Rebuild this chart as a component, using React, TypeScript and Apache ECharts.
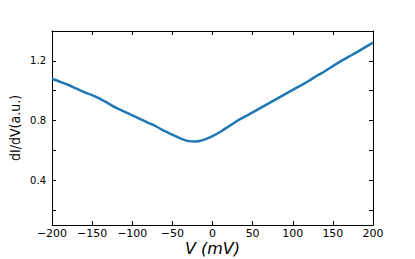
import React, { useEffect, useRef } from "react";
import * as echarts from "echarts";

const voltages = [-200,-190,-180,-170,-160,-150,-140,-130,-120,-110,-100,-90,-80,-70,-60,-50,-40,-30,-20,-10,0,10,20,30,40,50,60,70,80,90,100,110,120,130,140,150,160,170,180,190,200];
const didv = [1.078,1.06,1.04,1.015,0.99,0.97,0.945,0.915,0.885,0.86,0.835,0.81,0.785,0.76,0.73,0.705,0.68,0.662,0.66,0.672,0.695,0.725,0.76,0.795,0.825,0.855,0.885,0.915,0.945,0.975,1.005,1.035,1.065,1.1,1.13,1.165,1.198,1.228,1.258,1.29,1.322];
const yLabelValues = [0.4, 0.8, 1.2];
const yTickValues = [0.2, 0.4, 0.6, 0.8, 1.0, 1.2];

export default function App() {
  const ref = useRef<HTMLDivElement>(null);
  useEffect(() => {
    if (!ref.current) return;
    const chart = echarts.init(ref.current, null, { renderer: "svg" });
    const minus = (v: number) => String(v).replace("-", "\u2212");
    chart.setOption({
      animation: false,
      grid: { left: 52, right: 42, top: 31, bottom: 34, containLabel: false, outerBoundsMode: "none" },
      xAxis: [
        {
          type: "value", min: -200, max: 200, interval: 50,
          name: "V (mV)", nameLocation: "middle", nameGap: 15, nameMoveOverlap: false,
          nameTextStyle: { fontFamily: "DejaVu Sans", fontStyle: "italic", fontSize: 16, color: "#000", verticalAlign: "top" },
          axisLine: { show: true, onZero: false, lineStyle: { color: "#000", width: 1 } },
          axisTick: { show: true, inside: true, length: 4, lineStyle: { color: "#000" } },
          axisLabel: { fontFamily: "DejaVu Sans", fontSize: 11, color: "#000", margin: 3, formatter: minus },
          splitLine: { show: false },
        },
        {
          type: "value", min: -200, max: 200, interval: 50, position: "top",
          axisLine: { show: true, onZero: false, lineStyle: { color: "#000", width: 1 } },
          axisTick: { show: true, inside: true, length: 4, lineStyle: { color: "#000" } },
          axisLabel: { show: false },
          splitLine: { show: false },
        },
      ],
      yAxis: [
        {
          type: "value", min: 0.1, max: 1.4,
          name: "dI/dV(a.u.)", nameLocation: "middle", nameGap: 30, nameMoveOverlap: false,
          nameTextStyle: { fontFamily: "DejaVu Sans Condensed, DejaVu Sans", fontSize: 14, color: "#000" },
          axisLine: { show: true, onZero: false, lineStyle: { color: "#000", width: 1 } },
          axisTick: { show: true, inside: true, length: 4, lineStyle: { color: "#000" }, customValues: yTickValues },
          axisLabel: { fontFamily: "DejaVu Sans", fontSize: 10, color: "#000", margin: 6, customValues: yLabelValues, formatter: (v: number) => v.toFixed(1) },
          splitLine: { show: false },
        },
        {
          type: "value", min: 0.1, max: 1.4, position: "right",
          axisLine: { show: true, onZero: false, lineStyle: { color: "#000", width: 1 } },
          axisTick: { show: true, inside: true, length: 4, lineStyle: { color: "#000" }, customValues: yTickValues },
          axisLabel: { show: false },
          splitLine: { show: false },
        },
      ],
      series: [
        {
          type: "line",
          data: voltages.map((v, i) => [v, didv[i]]),
          smooth: 0.3,
          showSymbol: false,
          lineStyle: { color: "#1f77b4", width: 2.5 },
        },
      ],
    });
    return () => chart.dispose();
  }, []);
  return <div ref={ref} style={{ position: "fixed", left: 0, top: 0, width: 415, height: 259, background: "#fff" }} />;
}
